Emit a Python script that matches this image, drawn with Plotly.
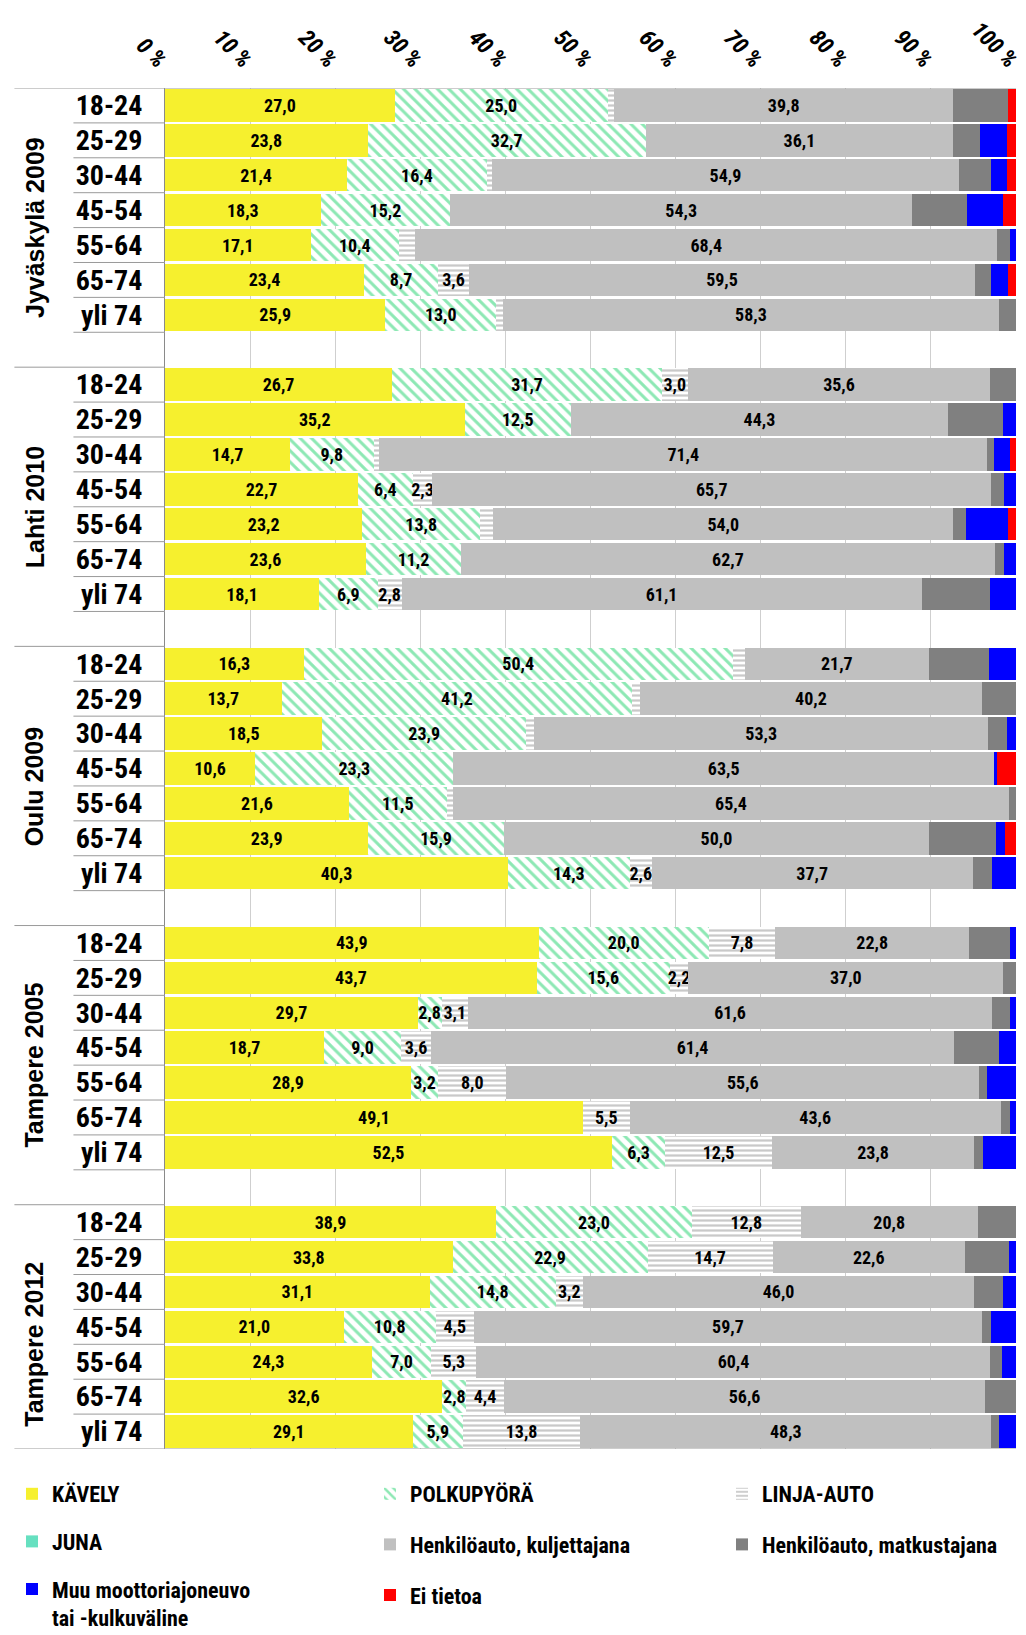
import plotly.graph_objects as go

# Travel mode shares (%) by age group in five Finnish city surveys
cities = ["Jyväskylä 2009", "Lahti 2010", "Oulu 2009", "Tampere 2005", "Tampere 2012"]
age_groups = ["18-24", "25-29", "30-44", "45-54", "55-64", "65-74", "yli 74"]

kavely = [27.0, 23.8, 21.4, 18.3, 17.1, 23.4, 25.9,
          26.7, 35.2, 14.7, 22.7, 23.2, 23.6, 18.1,
          16.3, 13.7, 18.5, 10.6, 21.6, 23.9, 40.3,
          43.9, 43.7, 29.7, 18.7, 28.9, 49.1, 52.5,
          38.9, 33.8, 31.1, 21.0, 24.3, 32.6, 29.1]
polkupyora = [25.0, 32.7, 16.4, 15.2, 10.4, 8.7, 13.0,
              31.7, 12.5, 9.8, 6.4, 13.8, 11.2, 6.9,
              50.4, 41.2, 23.9, 23.3, 11.5, 15.9, 14.3,
              20.0, 15.6, 2.8, 9.0, 3.2, 0.0, 6.3,
              23.0, 22.9, 14.8, 10.8, 7.0, 2.8, 5.9]
linja_auto = [0.8, 0.0, 0.6, 0.0, 1.9, 3.6, 0.8,
              3.0, 0.0, 0.7, 2.3, 1.6, 0.0, 2.8,
              1.4, 0.9, 1.0, 0.0, 0.7, 0.0, 2.6,
              7.8, 2.2, 3.1, 3.6, 8.0, 5.5, 12.5,
              12.8, 14.7, 3.2, 4.5, 5.3, 4.4, 13.8]
juna = [0.0] * 35
kuljettajana = [39.8, 36.1, 54.9, 54.3, 68.4, 59.5, 58.3,
                35.6, 44.3, 71.4, 65.7, 54.0, 62.7, 61.1,
                21.7, 40.2, 53.3, 63.5, 65.4, 50.0, 37.7,
                22.8, 37.0, 61.6, 61.4, 55.6, 43.6, 23.8,
                20.8, 22.6, 46.0, 59.7, 60.4, 56.6, 48.3]
matkustajana = [6.5, 3.2, 3.8, 6.5, 1.5, 1.9, 2.0,
                3.0, 6.5, 0.8, 1.5, 1.5, 1.1, 8.1,
                7.0, 4.0, 2.3, 0.0, 0.8, 7.8, 2.3,
                4.8, 1.5, 2.1, 5.3, 0.9, 1.1, 1.0,
                4.5, 5.2, 3.4, 1.1, 1.3, 3.6, 0.9]
muu = [0.0, 3.2, 1.8, 4.2, 0.7, 2.0, 0.0,
       0.0, 1.5, 1.9, 1.4, 5.0, 1.4, 3.0,
       3.2, 0.0, 1.0, 0.4, 0.0, 1.1, 2.8,
       0.7, 0.0, 0.7, 2.0, 3.4, 0.7, 3.9,
       0.0, 0.8, 1.5, 2.9, 1.7, 0.0, 2.0]
ei_tietoa = [0.9, 1.0, 1.1, 1.5, 0.0, 0.9, 0.0,
             0.0, 0.0, 0.7, 0.0, 0.9, 0.0, 0.0,
             0.0, 0.0, 0.0, 2.2, 0.0, 1.3, 0.0,
             0.0, 0.0, 0.0, 0.0, 0.0, 0.0, 0.0,
             0.0, 0.0, 0.0, 0.0, 0.0, 0.0, 0.0]

x_ticks = [0, 10, 20, 30, 40, 50, 60, 70, 80, 90, 100]
x_tick_labels = ["0 %", "10 %", "20 %", "30 %", "40 %", "50 %",
                 "60 %", "70 %", "80 %", "90 %", "100 %"]

NARROW = "Liberation Sans Narrow, Arial Narrow, Roboto Condensed, Liberation Sans, sans-serif"
WIDE = "Liberation Sans, Arial, sans-serif"
GROUP_SLOTS = 8  # seven age rows plus one empty spacer row per city

# row positions: each city block takes 8 slots, the last one left empty
slots = [g * GROUP_SLOTS + r for g in range(len(cities)) for r in range(len(age_groups))]
tick_text = [age_groups[r] for g in range(len(cities)) for r in range(len(age_groups))]


def value_labels(values, threshold=2.0):
    return [f"{v:.1f}".replace(".", ",") if v >= threshold else "" for v in values]


series = [
    dict(name="KÄVELY", values=kavely, color="#F6F02E", labels=True, legend="legend"),
    dict(name="POLKUPYÖRÄ", values=polkupyora, color="#FFFFFF", labels=True, legend="legend2",
         pattern=dict(shape="\\", fgcolor="#8DE8B4", bgcolor="#FFFFFF", size=8, solidity=0.38,
                      fillmode="replace")),
    dict(name="LINJA-AUTO", values=linja_auto, color="#FFFFFF", labels=True, legend="legend3",
         pattern=dict(shape="-", fgcolor="#C9C9C9", bgcolor="#FFFFFF", size=5, solidity=0.45,
                      fillmode="replace")),
    dict(name="JUNA", values=juna, color="#66E0C0", labels=False, legend="legend"),
    dict(name="Henkilöauto, kuljettajana", values=kuljettajana, color="#C0C0C0", labels=True,
         legend="legend2"),
    dict(name="Henkilöauto, matkustajana", values=matkustajana, color="#808080", labels=False,
         legend="legend3"),
    dict(name="Muu moottoriajoneuvo<br>tai -kulkuväline", values=muu, color="#0000FF",
         labels=False, legend="legend"),
    dict(name="Ei tietoa", values=ei_tietoa, color="#FF0000", labels=False, legend="legend2"),
]

fig = go.Figure()
for i, s in enumerate(series):
    marker = dict(color=s["color"], line=dict(width=0))
    if "pattern" in s:
        marker["pattern"] = s["pattern"]
    fig.add_trace(go.Bar(
        name=s["name"],
        x=s["values"],
        y=slots,
        orientation="h",
        width=0.93,
        marker=marker,
        text=value_labels(s["values"]) if s["labels"] else None,
        textposition="inside" if s["labels"] else "none",
        insidetextanchor="middle",
        textangle=0,
        constraintext="none",
        textfont=dict(family=NARROW, size=18, color="#000000", weight="bold"),
        legend=s["legend"],
        legendgroup=f"g{i}",
        hoverinfo="skip",
    ))

n_slots = len(cities) * GROUP_SLOTS - 1
plot_left, plot_right = 165.5, 1016.0
plot_w = plot_right - plot_left


def px_to_paper(px):
    return (px - plot_left) / plot_w


shapes = []
line_style = dict(color="#9A9A9A", width=1)
# long lines at top of every city block and at the bottom of the chart
for g in range(len(cities)):
    y0 = g * GROUP_SLOTS - 0.5
    x_end = 1 if g == 0 else 0
    shapes.append(dict(type="line", xref="paper", yref="y", x0=px_to_paper(15), x1=x_end,
                       y0=y0, y1=y0, line=line_style))
shapes.append(dict(type="line", xref="paper", yref="y", x0=px_to_paper(15), x1=1,
                   y0=n_slots - 0.5, y1=n_slots - 0.5, line=line_style))
# short lines between age rows
for g in range(len(cities)):
    for r in range(len(age_groups)):
        yb = g * GROUP_SLOTS + r + 0.5
        if yb >= n_slots - 0.5:
            continue
        shapes.append(dict(type="line", xref="paper", yref="y", x0=px_to_paper(74), x1=0,
                           y0=yb, y1=yb, line=line_style))

# city names centred on the whole 8-slot block (age rows + spacer)
annotations = []
for g, city in enumerate(cities):
    annotations.append(dict(
        text=f"<b>{city}</b>", xref="paper", yref="y",
        x=px_to_paper(35), y=g * GROUP_SLOTS + 3.5, textangle=-90, showarrow=False,
        font=dict(family=WIDE, size=25, color="#000000"),
        xanchor="center", yanchor="middle",
    ))

legend_common = dict(
    xref="container", yref="container", yanchor="top", xanchor="left",
    orientation="v", traceorder="grouped", tracegroupgap=19,
    font=dict(family=NARROW, size=22, color="#000000", weight="bold"),
    bgcolor="rgba(0,0,0,0)", itemwidth=30, valign="top",
)
legend_top = 1 - 1473 / 1635

fig.update_layout(
    width=1026, height=1635,
    margin=dict(l=int(plot_left), r=int(1026 - plot_right), t=88, b=186, autoexpand=False),
    paper_bgcolor="#FFFFFF", plot_bgcolor="#FFFFFF",
    barmode="stack",
    showlegend=True,
    legend=dict(legend_common, x=12 / 1026, y=legend_top, tracegroupgap=16),
    legend2=dict(legend_common, x=370 / 1026, y=legend_top),
    legend3=dict(legend_common, x=722 / 1026, y=legend_top),
    xaxis=dict(
        range=[0, 100], side="top", tickmode="array", tickvals=x_ticks, ticktext=x_tick_labels,
        tickangle=45, showgrid=True, gridcolor="#CFCFCF", gridwidth=1, zeroline=False,
        showline=False, ticks="", tickfont=dict(family=NARROW, size=23, color="#000000",
                                                weight="bold", style="italic"),
        ticklabelstandoff=10, fixedrange=True, automargin=False,
    ),
    yaxis=dict(
        range=[n_slots - 0.5, -0.5], tickmode="array", tickvals=slots, ticktext=tick_text,
        showgrid=False, zeroline=False, showline=True, linecolor="#8A8A8A", linewidth=1,
        ticks="", ticklabelstandoff=16,
        tickfont=dict(family=NARROW, size=28, color="#000000", weight="bold"),
        fixedrange=True, automargin=False,
    ),
    shapes=shapes,
    annotations=annotations,
    separators=", ",
)

fig.write_html("out.html")
